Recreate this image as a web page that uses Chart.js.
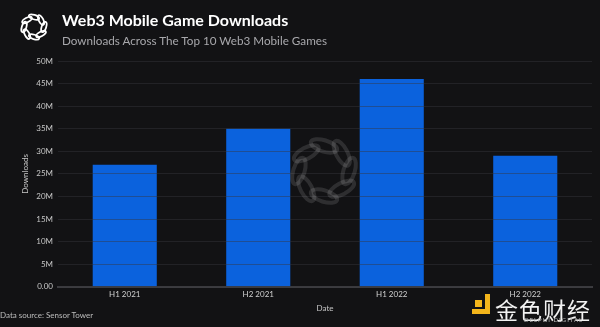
<!DOCTYPE html>
<html>
<head>
<meta charset="utf-8">
<script src="https://cdn.jsdelivr.net/npm/chart.js@4"></script>
<style>
  html, body { margin: 0; padding: 0; background: #121214; }
  #wrap { position: relative; width: 600px; height: 327px; overflow: hidden; font-family: Lato, "Open Sans", sans-serif; }
  canvas { position: absolute; left: 0; top: 0; }
  .title { position: absolute; left: 62px; top: 10px; color: #fff; font-weight: bold; font-size: 16px; white-space: nowrap; }
  .subtitle { position: absolute; left: 62px; top: 33px; color: #a8a8ac; font-size: 11.7px; white-space: nowrap; }
  .source { position: absolute; left: 0px; top: 310px; color: #bdbdbd; font-size: 8px; white-space: nowrap; }
  .wm { position: absolute; left: 495px; top: 292px; color: #f2f2f2; font-size: 23px; font-family: "Noto Sans CJK SC", sans-serif; white-space: nowrap; letter-spacing: 1px; }
  .wm2 { position: absolute; left: 524px; top: 316px; color: #bbb; font-size: 6px; letter-spacing: 1px; white-space: nowrap; }
  .mark1 { position: absolute; left: 475px; top: 300px; width: 7px; height: 7px; background: #f3b51b; }
  .mark2 { position: absolute; left: 472px; top: 309px; width: 18px; height: 5px; background: #f3b51b; }
  .mark3 { position: absolute; left: 485px; top: 294px; width: 5px; height: 20px; background: #f3b51b; }
</style>
</head>
<body>
<div id="wrap">
  <canvas id="chart" width="600" height="327"></canvas>
  <div class="title">Web3 Mobile Game Downloads</div>
  <div class="subtitle">Downloads Across The Top 10 Web3 Mobile Games</div>
  <div class="source">Data source: Sensor Tower</div>
  <div class="mark1"></div><div class="mark2"></div><div class="mark3"></div>
  <div class="wm">金色财经</div>
  <div class="wm2">DELPHI DIGITAL</div>
</div>
<script>
const periods = ['H1 2021', 'H2 2021', 'H1 2022', 'H2 2022'];
const downloads = [27, 35, 46, 29]; // millions
const yTicks = [0, 5, 10, 15, 20, 25, 30, 35, 40, 45, 50];

const drawLogo = (ctx, cx, cy, r, color, lw) => {
    ctx.save();
    ctx.strokeStyle = color;
    ctx.lineWidth = lw;
    for (let i = 0; i < 8; i++) {
        const a = i * Math.PI / 4;
        ctx.beginPath();
        ctx.ellipse(cx + Math.cos(a) * r * 0.66, cy + Math.sin(a) * r * 0.66, r * 0.36, r * 0.15, a + Math.PI / 2 + 0.3, 0, Math.PI * 2);
        ctx.stroke();
    }
    ctx.restore();
}

const logoPlugin = {
    id: 'logos',
    beforeDraw(chart) {
        drawLogo(chart.ctx, 34, 27, 15, '#ffffff', 1.8);
    },
    afterDraw(chart) {
        drawLogo(chart.ctx, 324, 171, 38, 'rgba(255,255,255,0.12)', 4);
    }
}

const ctx = document.getElementById('chart');
const chart = new Chart(ctx, {
    type: 'bar',
    data: {
        labels: periods,
        datasets: [{
            label: 'Downloads',
            data: downloads,
            backgroundColor: '#0b62dd',
            barPercentage: 0.48,
            categoryPercentage: 1
        }]
    },
    options: {
        responsive: false,
        animation: false,
        layout: { padding: { top: 61, left: 10, right: 8, bottom: 14 } },
        plugins: { legend: { display: false }, tooltip: { enabled: false } },
        scales: {
            x: {
                grid: { display: false, drawTicks: false },
                border: { color: '#3c3c40', width: 2 },
                ticks: { color: '#d0d0d0', font: { family: 'Lato', size: 8 }, padding: 3 },
                title: { display: true, text: 'Date', color: '#c8c8c8', font: { family: 'Lato', size: 8 }, padding: { top: 1, bottom: 0 } }
            },
            y: {
                min: 0,
                max: 50,
                afterBuildTicks: (scale) => { scale.ticks = yTicks.map(v => ({ value: v })); },
                afterFit: (scale) => { scale.width = 48; },
                grid: { color: 'rgba(55,55,60,0.45)', lineWidth: 1, drawTicks: false, z: 1 },
                border: { display: false },
                ticks: {
                    color: '#c8c8c8',
                    font: { family: 'Lato', size: 8 },
                    padding: 5,
                    callback: (v) => v === 0 ? '0.00' : v + 'M'
                },
                title: { display: true, text: 'Downloads', color: '#c8c8c8', font: { family: 'Lato', size: 8 }, padding: { top: 11, bottom: 0 } }
            }
        }
    },
    plugins: [logoPlugin]
});
</script>
</body>
</html>
